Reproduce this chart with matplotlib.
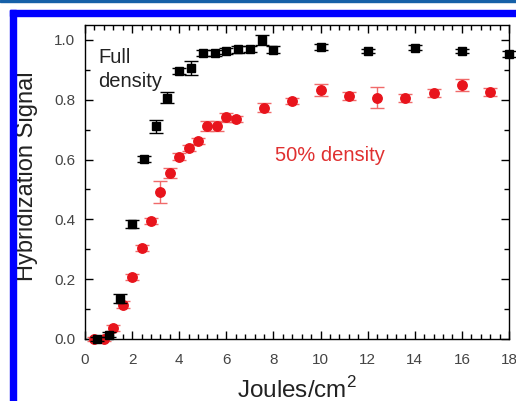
import matplotlib
matplotlib.use("Agg")
import matplotlib.pyplot as plt
from matplotlib.patches import Rectangle
from matplotlib.ticker import MultipleLocator

plt.rcParams['font.family'] = ['Liberation Sans', 'DejaVu Sans']
plt.rcParams['mathtext.fontset'] = 'custom'
plt.rcParams['mathtext.rm'] = 'Liberation Sans'

# full density (black squares)
full_x = [0.5, 1.0, 1.5, 2.0, 2.5, 3.0, 3.5, 4.0, 4.5, 5.0, 5.5, 6.0, 6.5, 7.0,
          7.5, 8.0, 10.0, 12.0, 14.0, 16.0, 18.0]
full_y = [0.0, 0.015, 0.135, 0.385, 0.603, 0.711, 0.807, 0.897, 0.907, 0.957,
          0.955, 0.963, 0.969, 0.971, 0.999, 0.967, 0.977, 0.963, 0.974, 0.963, 0.952]
full_err = [0.008, 0.008, 0.014, 0.014, 0.01, 0.021, 0.018, 0.01, 0.023, 0.01,
            0.01, 0.01, 0.012, 0.01, 0.016, 0.012, 0.01, 0.008, 0.008, 0.008, 0.01]

# 50% density (red circles)
half_x = [0.4, 0.8, 1.2, 1.6, 2.0, 2.4, 2.8, 3.2, 3.6, 4.0, 4.4, 4.8, 5.2, 5.6,
          6.0, 6.4, 7.6, 8.8, 10.0, 11.2, 12.4, 13.6, 14.8, 16.0, 17.2]
half_y = [0.0, 0.0, 0.036, 0.114, 0.208, 0.303, 0.396, 0.493, 0.556, 0.609,
          0.639, 0.662, 0.712, 0.712, 0.741, 0.737, 0.774, 0.795, 0.833, 0.813,
          0.807, 0.805, 0.823, 0.849, 0.826]
half_err = [0.008, 0.008, 0.01, 0.012, 0.01, 0.01, 0.01, 0.037, 0.017, 0.012,
            0.01, 0.01, 0.018, 0.018, 0.016, 0.01, 0.015, 0.01, 0.021, 0.014,
            0.036, 0.014, 0.013, 0.02, 0.014]

W, H = 516, 401
fig = plt.figure(figsize=(W / 100, H / 100), dpi=100)

# frame decorations
fig.patches.append(Rectangle((0, H - 2), W, 2, transform=None, color='#1560a8', zorder=0))
fig.patches.append(Rectangle((10, H - 16), W - 10, 6, transform=None, color='#0000ff', zorder=0))
fig.patches.append(Rectangle((10, 0), 6, H - 10, transform=None, color='#0000ff', zorder=0))

ax = fig.add_axes([85 / W, (H - 339) / H, (509 - 85) / W, (339 - 25) / H])

ax.errorbar(half_x, half_y, yerr=half_err, fmt='o', color='#e8141c', ms=6.8,
            ecolor='#f06a6a', elinewidth=1.0, capsize=5, capthick=1.0,
            clip_on=False, zorder=3)
ax.errorbar(full_x, full_y, yerr=full_err, fmt='s', color='black', ms=6,
            ecolor='black', elinewidth=1.0, capsize=5, capthick=1.0,
            clip_on=False, zorder=4)

ax.set_xlim(0, 18)
ax.set_ylim(0, 1.05)
ax.xaxis.set_major_locator(MultipleLocator(2))
ax.xaxis.set_minor_locator(MultipleLocator(0.4))
ax.yaxis.set_major_locator(MultipleLocator(0.2))
ax.yaxis.set_minor_locator(MultipleLocator(0.1))
ax.yaxis.set_major_formatter(plt.FormatStrFormatter('%.1f'))
ax.tick_params(which='both', direction='in', top=True, right=True,
               labelsize=11, labelcolor='#444444', width=1.0)
ax.tick_params(which='major', length=6)
ax.tick_params(which='minor', length=3.5)
ax.tick_params(axis='x', which='major', pad=10)
ax.tick_params(axis='y', which='major', pad=7)
for s in ax.spines.values():
    s.set_linewidth(1.0)

ax.set_xlabel('Joules/cm$^2$', fontsize=17.5, color='#222222', labelpad=7)
ax.set_ylabel('Hybridization Signal', fontsize=17, color='#222222')
ax.yaxis.set_label_coords(-0.111, 0.52)

ax.text(0.55, 0.923, 'Full', fontsize=14.5, color='#222222',
        va='baseline', ha='left')
ax.text(0.55, 0.8425, 'density', fontsize=14.5, color='#222222',
        va='baseline', ha='left')
ax.text(8.06, 0.615, '50% density', fontsize=14.5, color='#e03030',
        va='center', ha='left')

fig.savefig('out.png', dpi=100)
